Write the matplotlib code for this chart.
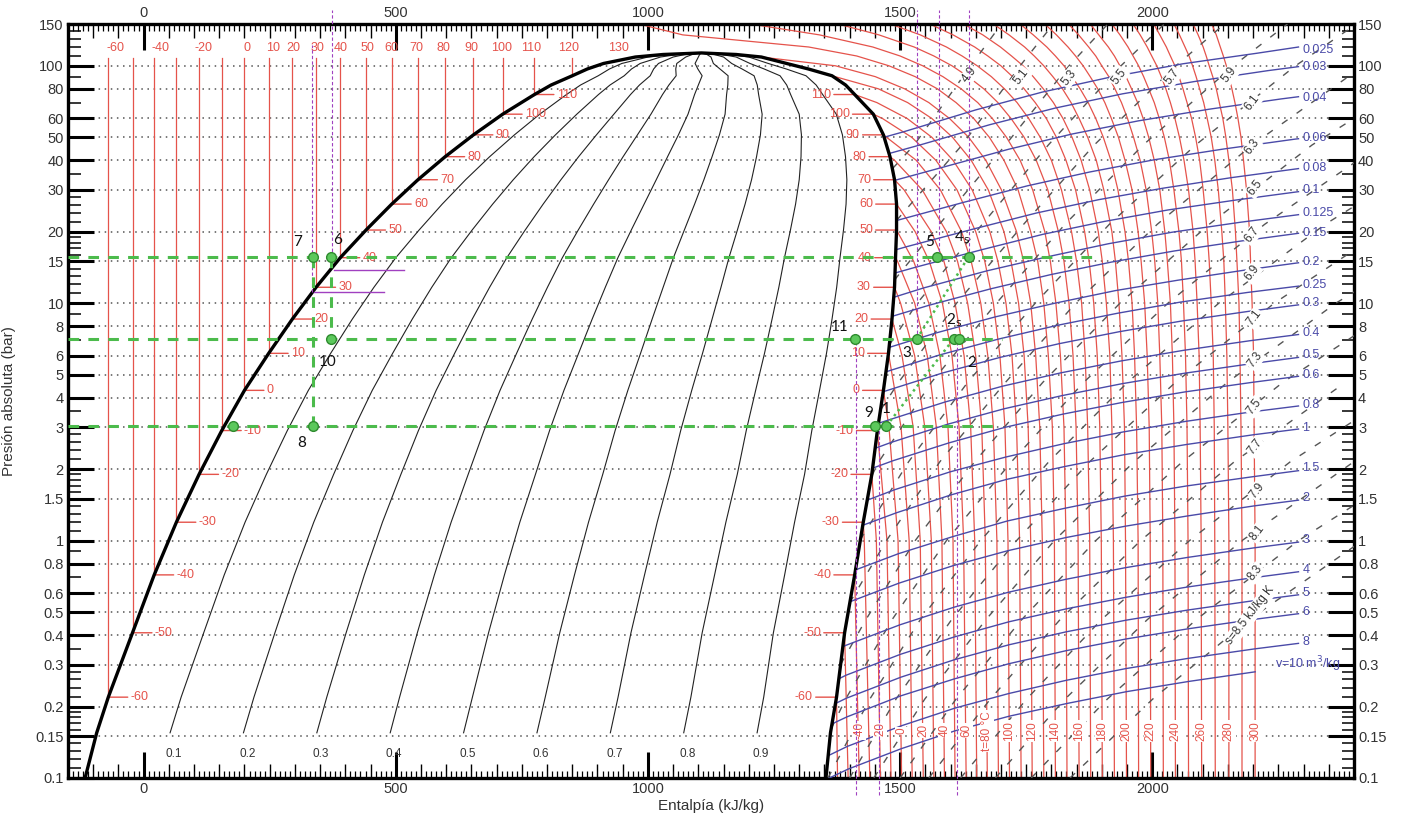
import matplotlib
matplotlib.use("Agg")
import matplotlib.pyplot as plt
from matplotlib.ticker import NullFormatter

plt.rcParams['font.family'] = ['Liberation Sans', 'DejaVu Sans']

# saturation table (T degC, p bar, h liquid / h vapour kJ/kg)
sat_T = [-71.2, -66.5, -60, -50, -40, -30, -20, -10, 0, 10, 20, 30, 40, 50, 60, 70, 80, 90, 100, 110, 115, 120, 124, 127, 130, 131.5, 132.25]
sat_p = [0.1, 0.155, 0.219, 0.409, 0.717, 1.195, 1.901, 2.908, 4.294, 6.149, 8.575, 11.67, 15.55, 20.33, 26.15, 33.12, 41.42, 51.18, 62.55, 75.69, 83.0, 90.8, 97.0, 102.3, 108.9, 111.6, 113.3]
sat_hf = [-116, -93, -70, -22, 21, 65, 110, 155, 200, 248, 295, 342, 390, 441, 492, 544, 598, 654, 712, 775, 808, 850, 880, 912, 975, 1030, 1106]
sat_hg = [1353, 1362, 1374, 1390, 1410, 1427, 1444, 1455, 1467, 1477, 1484, 1489, 1491, 1493, 1493, 1489, 1480, 1467, 1447, 1410, 1392, 1365, 1318, 1275, 1225, 1175, 1106]

# superheated isotherms: h (kJ/kg) at the pressures of P_GRID, up to saturation
iso_T = list(range(-60, 301, 10))
P_GRID = [0.1, 1, 3, 6, 10, 15, 20, 30, 40, 50, 60, 70, 80, 90, 100, 110, 120, 135, 150]
iso_h = [
    [1376], [1397], [1419], [1440, 1429], [1461, 1453], [1482, 1474],
    [1503, 1496, 1478], [1524, 1518, 1502], [1546, 1540, 1526, 1504],
    [1567, 1562, 1549, 1529, 1501], [1588, 1583, 1572, 1554, 1529, 1495],
    [1609, 1605, 1595, 1579, 1557, 1527], [1631, 1626, 1617, 1603, 1584, 1558, 1530],
    [1652, 1648, 1640, 1627, 1609, 1587, 1562, 1508],
    [1673, 1669, 1662, 1650, 1634, 1614, 1592, 1544, 1489],
    [1695, 1692, 1685, 1674, 1660, 1641, 1622, 1580, 1532],
    [1717, 1714, 1708, 1698, 1685, 1668, 1650, 1613, 1571, 1523, 1465],
    [1740, 1737, 1731, 1722, 1710, 1694, 1678, 1643, 1605, 1563, 1514, 1454],
    [1762, 1759, 1754, 1746, 1735, 1720, 1706, 1675, 1641, 1604, 1563, 1515, 1457],
    [1785, 1782, 1777, 1769, 1759, 1745, 1731, 1701, 1670, 1636, 1598, 1557, 1509, 1451, 1372],
    [1808, 1806, 1802, 1794, 1785, 1773, 1759, 1734, 1706, 1677, 1646, 1611, 1574, 1530, 1478, 1414, 1319, 1069, 982],
    [1831, 1829, 1825, 1818, 1809, 1798, 1787, 1763, 1738, 1711, 1683, 1654, 1621, 1585, 1545, 1500, 1446, 1340, 1204],
    [1855, 1853, 1849, 1843, 1835, 1825, 1814, 1793, 1770, 1746, 1720, 1694, 1666, 1635, 1603, 1567, 1528, 1458, 1377],
    [1878, 1876, 1872, 1867, 1860, 1850, 1840, 1820, 1800, 1778, 1755, 1732, 1707, 1681, 1653, 1623, 1592, 1540, 1481],
    [1901, 1899, 1896, 1891, 1884, 1875, 1866, 1848, 1829, 1810, 1790, 1768, 1746, 1723, 1700, 1674, 1648, 1605, 1559],
    [1925, 1923, 1920, 1916, 1909, 1901, 1893, 1876, 1859, 1841, 1823, 1804, 1784, 1764, 1744, 1721, 1699, 1664, 1626],
    [1949, 1947, 1945, 1940, 1934, 1927, 1920, 1904, 1889, 1872, 1855, 1839, 1822, 1803, 1785, 1766, 1747, 1716, 1685],
    [1973, 1972, 1969, 1965, 1960, 1953, 1946, 1932, 1918, 1903, 1888, 1873, 1857, 1841, 1825, 1808, 1791, 1764, 1738],
    [1997, 1996, 1994, 1990, 1985, 1978, 1972, 1960, 1946, 1933, 1919, 1906, 1892, 1877, 1863, 1848, 1833, 1810, 1787],
    [2022, 2021, 2019, 2015, 2011, 2005, 1999, 1988, 1976, 1963, 1951, 1939, 1926, 1914, 1900, 1888, 1874, 1854, 1834],
    [2046, 2045, 2043, 2040, 2036, 2030, 2025, 2015, 2004, 1993, 1982, 1971, 1959, 1948, 1936, 1925, 1913, 1894, 1877],
    [2072, 2071, 2069, 2066, 2062, 2058, 2053, 2043, 2034, 2024, 2014, 2004, 1993, 1983, 1973, 1962, 1952, 1936, 1920],
    [2098, 2097, 2095, 2093, 2089, 2085, 2081, 2072, 2063, 2054, 2045, 2036, 2027, 2018, 2009, 1999, 1990, 1976, 1962],
    [2125, 2124, 2123, 2121, 2117, 2113, 2109, 2101, 2094, 2086, 2078, 2069, 2061, 2053, 2045, 2036, 2028, 2015, 2003],
    [2152, 2152, 2150, 2148, 2145, 2142, 2138, 2131, 2124, 2117, 2109, 2102, 2094, 2087, 2080, 2073, 2065, 2054, 2043],
    [2178, 2178, 2176, 2174, 2172, 2168, 2165, 2159, 2152, 2146, 2140, 2133, 2127, 2120, 2113, 2107, 2101, 2091, 2081],
    [2204, 2204, 2202, 2201, 2198, 2195, 2193, 2187, 2181, 2176, 2170, 2164, 2158, 2152, 2147, 2141, 2135, 2127, 2118],
]

# isentropes (kJ/kg K)
isen_s = [4.9, 5.1, 5.3, 5.5, 5.7, 5.9, 6.1, 6.3, 6.5, 6.7, 6.9, 7.1, 7.3, 7.5, 7.7, 7.9, 8.1, 8.3, 8.5]
isen_p = [
    [36.9, 46.4, 100, 150], [22.32, 46.4, 100, 150], [12.53, 21.5, 46.4, 100, 150],
    [6.692, 10, 21.5, 46.4, 100, 150], [3.54, 4.64, 10, 21.5, 46.4, 100, 150],
    [1.876, 2.15, 4.64, 10, 21.5, 46.4, 100, 150], [1.008, 2.15, 4.64, 10, 21.5, 46.4, 100, 150],
    [0.5468, 1, 2.15, 4.64, 10, 21.5, 46.4, 100], [0.3005, 0.464, 1, 2.15, 4.64, 10, 21.5, 46.4, 100],
    [0.1606, 0.215, 0.464, 1, 2.15, 4.64, 10, 21.5, 46.4], [0.1, 0.215, 0.464, 1, 2.15, 4.64, 10, 21.5, 46.4],
    [0.1, 0.215, 0.464, 1, 2.15, 4.64, 10, 21.5], [0.1, 0.215, 0.464, 1, 2.15, 4.64, 10, 21.5],
    [0.1, 0.215, 0.464, 1, 2.15, 4.64, 10], [0.1, 0.215, 0.464, 1, 2.15, 4.64],
    [0.1, 0.215, 0.464, 1, 2.15, 4.64], [0.1, 0.215, 0.464, 1, 2.15],
    [0.1, 0.215, 0.464, 1, 2.15], [0.1, 0.215, 0.464, 1],
]
isen_h = [
    [1485, 1528, 1640, 1701], [1493, 1623, 1738, 1804], [1489, 1578, 1709, 1835, 1912],
    [1479, 1534, 1663, 1794, 1938, 2024], [1461, 1497, 1612, 1745, 1885, 2047, 2143],
    [1444, 1458, 1562, 1691, 1827, 1982, 2161, 2268], [1421, 1517, 1634, 1768, 1915, 2086, 2284, 2405],
    [1400, 1473, 1579, 1709, 1848, 2010, 2198, 2419], [1382, 1432, 1530, 1648, 1783, 1936, 2113, 2317, 2565],
    [1363, 1392, 1484, 1592, 1721, 1864, 2031, 2223, 2452], [1357, 1440, 1540, 1660, 1795, 1951, 2132, 2343, 2596],
    [1400, 1492, 1602, 1731, 1876, 2046, 2242, 2477], [1448, 1549, 1670, 1806, 1964, 2149, 2364, 2620],
    [1500, 1611, 1741, 1888, 2060, 2259, 2499], [1557, 1679, 1817, 1977, 2163, 2383],
    [1620, 1751, 1899, 2074, 2274, 2518], [1689, 1827, 1990, 2178, 2400],
    [1760, 1911, 2087, 2290, 2536], [1837, 2001, 2192, 2417],
]

# isochores (m3/kg)
isoc_v = [0.025, 0.03, 0.04, 0.06, 0.08, 0.1, 0.125, 0.15, 0.2, 0.25, 0.3, 0.4, 0.5, 0.6, 0.8, 1, 1.5, 2, 3, 4, 5, 6, 8, 10]
isoc_p = [
    [50, 52.8, 65.2, 77.5, 89.6, 102, 113, 120], [42.7, 46.5, 56.5, 66.4, 76.2, 85.8, 95.4, 99.2],
    [32.9, 37.3, 44.5, 51.6, 58.6, 65.6, 72.5, 74.1], [22.3, 26.6, 31.2, 35.7, 40.2, 44.6, 49.1, 49.3],
    [16.8, 17.3, 20.6, 24, 27.3, 30.5, 33.8, 36.9], [13.4, 14.2, 16.8, 19.5, 22.1, 24.7, 27.2, 29.5],
    [10.6, 11.6, 13.7, 15.7, 17.8, 19.9, 21.9, 23.6], [8.8, 9.81, 11.5, 13.2, 14.9, 16.6, 18.3, 19.7],
    [6.51, 7.49, 8.76, 10, 11.3, 12.5, 13.8, 14.8], [5.14, 6.05, 7.06, 8.07, 9.07, 10.1, 11.1, 11.8],
    [4.24, 5.08, 5.91, 6.75, 7.58, 8.41, 9.24, 9.84], [3.12, 3.22, 3.84, 4.47, 5.09, 5.71, 6.33, 6.95, 7.38],
    [2.45, 2.59, 3.09, 3.59, 4.08, 4.58, 5.07, 5.56, 5.91], [2.02, 2.17, 2.58, 3, 3.41, 3.82, 4.23, 4.64, 4.92],
    [1.48, 1.64, 1.95, 2.25, 2.56, 2.87, 3.18, 3.49, 3.69], [1.16, 1.31, 1.56, 1.81, 2.05, 2.3, 2.54, 2.79, 2.95],
    [0.753, 0.881, 1.04, 1.21, 1.37, 1.54, 1.7, 1.86, 1.97], [0.553, 0.662, 0.785, 0.907, 1.03, 1.15, 1.27, 1.4, 1.48],
    [0.357, 0.361, 0.442, 0.524, 0.606, 0.687, 0.769, 0.85, 0.932, 0.985],
    [0.262, 0.271, 0.332, 0.393, 0.455, 0.516, 0.577, 0.638, 0.699, 0.739],
    [0.206, 0.217, 0.266, 0.315, 0.364, 0.413, 0.462, 0.51, 0.559, 0.591],
    [0.169, 0.181, 0.222, 0.262, 0.303, 0.344, 0.385, 0.425, 0.466, 0.492],
    [0.124, 0.136, 0.166, 0.197, 0.227, 0.258, 0.289, 0.319, 0.35, 0.369],
    [0.1, 0.109, 0.133, 0.158, 0.182, 0.206, 0.231, 0.255, 0.28],
]
isoc_h = [
    [1468, 1508, 1650, 1782, 1917, 2061, 2208, 2290], [1478, 1541, 1678, 1808, 1941, 2083, 2229, 2290],
    [1489, 1583, 1715, 1841, 1972, 2112, 2255, 2290], [1493, 1626, 1752, 1876, 2004, 2141, 2283, 2290],
    [1492, 1513, 1648, 1771, 1894, 2021, 2157, 2290], [1490, 1532, 1662, 1783, 1905, 2031, 2166, 2290],
    [1488, 1547, 1673, 1793, 1913, 2039, 2173, 2290], [1484, 1558, 1680, 1799, 1919, 2044, 2178, 2290],
    [1478, 1571, 1689, 1807, 1927, 2051, 2185, 2290], [1472, 1578, 1695, 1812, 1931, 2055, 2189, 2290],
    [1467, 1584, 1698, 1815, 1934, 2058, 2191, 2290], [1457, 1477, 1590, 1703, 1819, 1938, 2062, 2194, 2290],
    [1451, 1482, 1594, 1706, 1821, 1940, 2064, 2196, 2290], [1446, 1486, 1597, 1708, 1823, 1941, 2065, 2198, 2290],
    [1435, 1490, 1600, 1710, 1825, 1943, 2067, 2199, 2290], [1426, 1493, 1602, 1711, 1826, 1944, 2068, 2200, 2290],
    [1412, 1497, 1605, 1713, 1828, 1946, 2069, 2201, 2290], [1401, 1498, 1606, 1714, 1829, 1947, 2070, 2202, 2290],
    [1387, 1391, 1500, 1607, 1715, 1829, 1947, 2071, 2202, 2290],
    [1379, 1393, 1501, 1608, 1716, 1830, 1948, 2071, 2203, 2290],
    [1372, 1394, 1502, 1608, 1716, 1830, 1948, 2071, 2203, 2290],
    [1365, 1395, 1502, 1609, 1716, 1830, 1948, 2071, 2203, 2290],
    [1357, 1396, 1503, 1609, 1716, 1830, 1948, 2071, 2204, 2290],
    [1360, 1397, 1503, 1609, 1716, 1831, 1949, 2072, 2204],
]

quality = [0.1, 0.2, 0.3, 0.4, 0.5, 0.6, 0.7, 0.8, 0.9]
top_lbl_T = [-60, -40, -20, 0, 10, 20, 30, 40, 50, 60, 70, 80, 90, 100, 110, 120, 130]
top_lbl_h = [-56, 33, 119, 206, 256, 297, 345, 391, 443, 492, 540, 594, 649, 709, 768, 842, 941]
isen_lbl_h = [1638, 1741, 1835, 1934, 2040, 2153, 2198, 2198, 2204, 2198, 2198, 2202, 2204, 2202, 2204, 2208, 2208, 2204, 2195]
isen_lbl_p = [91.4, 89.8, 88.9, 89.8, 89.8, 91.4, 69.7, 45.5, 30.6, 19.4, 13.4, 8.66, 5.77, 3.66, 2.48, 1.63, 1.08, 0.73, 0.486]
isoc_lbl_p = [116.6, 98.8, 73.2, 49.6, 37.1, 30.0, 24.0, 19.8, 14.9, 11.9, 10.0, 7.49, 6.05, 4.98, 3.73, 2.98,
              2.02, 1.51, 1.006, 0.752, 0.602, 0.500, 0.374, 0.302]

# refrigeration cycle drawn over the chart
p_hi, p_mid, p_lo = 15.7, 7.06, 3.04
pt_h = [335, 371, 371, 335, 178, 1411, 1533, 1606, 1450, 1473, 1573, 1636, 1617]
pt_p = [p_hi, p_hi, p_mid, p_lo, p_lo, p_mid, p_mid, p_mid, p_lo, p_lo, p_hi, p_hi, p_mid]
num_txt = ['7', '6', '10', '8', '11', '3', '2$_\\mathrm{s}$', '2', '9', '1', '5', '4$_\\mathrm{s}$']
num_h = [306, 385, 365, 313, 1380, 1513, 1606, 1642, 1438, 1473, 1559, 1622]
num_p = [18.1, 18.4, 5.65, 2.58, 7.95, 6.19, 8.5, 5.6, 3.46, 3.6, 18.1, 19.0]
pv_h = [334, 373, 1413, 1458, 1612, 1533, 1577, 1636]
pv_lo = [11.1, 15.7, 0.085, 0.085, 0.085, 7.06, 15.7, 15.7]
pv_hi = [122, 172, 7.06, 3.04, 7.06, 172, 172, 172]

red = '#e5534b'
blue = '#4a4aa8'
green = '#4cbb4c'
purple = '#a040c0'

fig = plt.figure(figsize=(14.07, 8.25), dpi=100)
ax = fig.add_axes([0.0483, 0.0570, 0.9140, 0.9139])
ax.set_yscale('log')
ax.set_xlim(-150, 2400)
ax.set_ylim(0.1, 150)

yt = [0.1, 0.15, 0.2, 0.3, 0.4, 0.5, 0.6, 0.8, 1, 1.5, 2, 3, 4, 5, 6, 8, 10, 15, 20, 30, 40, 50, 60, 80, 100, 150]
for y in yt[1:-1]:
    ax.axhline(y, color='#555555', lw=1.1, ls=(0, (1, 3)), zorder=1)

# quality lines
for q in quality:
    hq = [hf + q * (hg - hf) for hf, hg in zip(sat_hf[1:], sat_hg[1:])]
    ax.plot(hq, sat_p[1:], color='#222222', lw=0.8, zorder=2)
    ax.text(hq[0] + 8, 0.126, '%g' % q, fontsize=8.5, color='#333333', ha='center', va='center')

# liquid isotherms
for t, p, hf in zip(sat_T, sat_p, sat_hf):
    if t in range(-60, 121, 10):
        ax.plot([hf, hf], [p, 108], color=red, lw=0.9, zorder=2)
for t, h in zip(top_lbl_T, top_lbl_h):
    ax.text(h, 119, '%d' % t, color=red, fontsize=9, ha='center', va='center')

# vapour isotherms
for t, row in zip(iso_T, iso_h):
    hs = list(row)
    ps = P_GRID[:len(row)]
    if t in sat_T:
        i = sat_T.index(t)
        hs = hs + [sat_hg[i]]
        ps = ps + [sat_p[i]]
    ax.plot(hs, ps, color=red, lw=0.9, zorder=2)
    if t % 20 == 0 and t >= -40:
        ax.text(row[0], 0.158, 't=80 °C' if t == 80 else '%d' % t, color=red, fontsize=8.5,
                rotation=90, ha='center', va='center', zorder=5,
                bbox=dict(boxstyle='square,pad=0.08', fc='white', ec='none'))

# isentropes
for hs, ps in zip(isen_h, isen_p):
    ax.plot(hs, ps, color='#555555', lw=1.0, ls=(0, (5, 8)), zorder=3)
for s, h, p in zip(isen_s, isen_lbl_h, isen_lbl_p):
    txt = 's=8.5 kJ/kg K' if s == 8.5 else '%.1f' % s
    ax.text(h, p, txt, color='#333333', fontsize=8.5, rotation=52, ha='center', va='center',
            bbox=dict(boxstyle='square,pad=0.1', fc='white', ec='none'), zorder=5)

# isochores
for hs, ps in zip(isoc_h, isoc_p):
    ax.plot(hs, ps, color=blue, lw=1.0, zorder=3)
for v, p in zip(isoc_v, isoc_lbl_p):
    if v == 10:
        ax.text(2243, p, 'v=10 m$^3$/kg', color=blue, fontsize=9, ha='left', va='center')
    else:
        ax.text(2298, p, '%g' % v, color=blue, fontsize=9, ha='left', va='center')

# saturation dome with temperature marks
ax.plot(sat_hf + sat_hg[::-1], sat_p + sat_p[::-1], color='black', lw=2.4, zorder=4)
for t, p, hf, hg in zip(sat_T, sat_p, sat_hf, sat_hg):
    if t in range(-60, 111, 10):
        ax.annotate('%d' % t, xy=(hf, p), xytext=(16, 0), textcoords='offset points', color=red, fontsize=9,
                    va='center', ha='left', arrowprops=dict(arrowstyle='-', color=red, lw=1.0, shrinkA=0, shrinkB=0))
        ax.annotate('%d' % t, xy=(hg, p), xytext=(-17, 0), textcoords='offset points', color=red, fontsize=9,
                    va='center', ha='right', arrowprops=dict(arrowstyle='-', color=red, lw=1.0, shrinkA=0, shrinkB=0))

# cycle
dash = (0, (3.5, 3))
ax.plot([-150, 1886], [p_hi, p_hi], color=green, lw=2.2, ls=dash, zorder=6)
ax.plot([-150, 1702], [p_mid, p_mid], color=green, lw=2.2, ls=dash, zorder=6)
ax.plot([-150, 1692], [p_lo, p_lo], color=green, lw=2.2, ls=dash, zorder=6)
ax.plot([pt_h[0], pt_h[3]], [p_hi, p_lo], color=green, lw=2.2, ls=dash, zorder=6)
ax.plot([pt_h[1], pt_h[2]], [p_hi, p_mid], color=green, lw=2.2, ls=dash, zorder=6)
ax.plot([pt_h[9], pt_h[7]], [p_lo, p_mid], color=green, lw=1.8, ls=(0, (1, 1.5)), zorder=6)
ax.plot([pt_h[6], pt_h[11]], [p_mid, p_hi], color=green, lw=1.8, ls=(0, (1, 1.5)), zorder=6)
ax.plot(pt_h, pt_p, 'o', ms=7, mfc='#5cc85c', mec='#2e8b2e', mew=1, ls='none', zorder=7)
for t, h, p in zip(num_txt, num_h, num_p):
    ax.text(h, p, t, fontsize=11, color='#111111', ha='center', va='center', family='Lato', zorder=8)

for h, a, b in zip(pv_h, pv_lo, pv_hi):
    ax.plot([h, h], [a, b], color=purple, lw=0.8, ls=(0, (3, 2)), zorder=5, clip_on=False)
ax.plot([377, 516], [13.8, 13.8], color=purple, lw=1.0, zorder=5)
ax.plot([337, 476], [11.1, 11.1], color=purple, lw=1.0, zorder=5)

# axes cosmetics
ax.set_yticks(yt)
ax.set_yticklabels(['%g' % v for v in yt])
ymin = [round(m * 10.0 ** e, 4) for e in (-1, 0, 1, 2)
        for m in (1.1, 1.2, 1.3, 1.4, 1.6, 1.7, 1.8, 1.9, 2.2, 2.4, 2.6, 2.8, 3.5, 7, 9)]
ax.set_yticks([v for v in ymin if 0.1 < v < 150], minor=True)
ax.yaxis.set_minor_formatter(NullFormatter())
ax.set_xticks([0, 500, 1000, 1500, 2000])
ax.set_xticks([t for t in range(-150, 2401, 10) if t % 50], minor=True)
ax.tick_params(which='major', direction='in', length=19, width=2.2, top=True, right=True,
               labeltop=True, labelright=True, labelsize=10.5, labelcolor='#333333', pad=3)
ax.tick_params(axis='y', which='minor', direction='in', length=9, width=1.1, right=True)
ax.tick_params(axis='x', which='minor', direction='in', length=5, width=0.9, top=True)
for loc in ('bottom', 'top'):
    sec = ax.secondary_xaxis(loc)
    sec.set_xticks([t for t in range(-150, 2401, 50) if t % 500])
    sec.set_xticklabels([])
    sec.tick_params(direction='in', length=10, width=1.0)
for sp in ax.spines.values():
    sp.set_linewidth(2.4)
ax.set_xlabel('Entalpía (kJ/kg)', fontsize=11, color='#333333', labelpad=2)
ax.set_ylabel('Presión absoluta (bar)', fontsize=11, color='#333333', labelpad=14)

fig.savefig('out.png', dpi=100)
